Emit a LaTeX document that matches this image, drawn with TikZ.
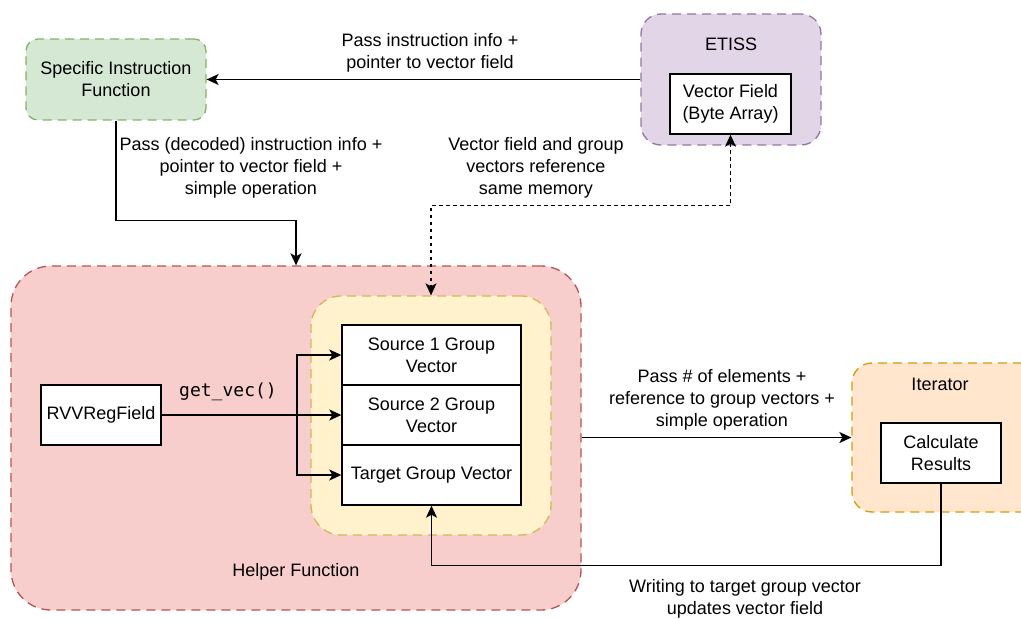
\documentclass[tikz,border=0pt]{standalone}
\usepackage{fontspec}
\setmainfont{Liberation Sans}
\newfontfamily\codefont{DejaVu Sans Mono}
\usetikzlibrary{arrows.meta}

\definecolor{greenfill}{HTML}{D5E8D4}
\definecolor{greenline}{HTML}{82B366}
\definecolor{purplefill}{HTML}{E1D5E7}
\definecolor{purpleline}{HTML}{9673A6}
\definecolor{redfill}{HTML}{F8CECC}
\definecolor{redline}{HTML}{B85450}
\definecolor{yellowfill}{HTML}{FFF2CC}
\definecolor{yellowline}{HTML}{D6B656}
\definecolor{orangefill}{HTML}{FFE6CC}
\definecolor{orangeline}{HTML}{D79B00}

\tikzset{
  container/.style={draw, line width=1.3bp, dash pattern=on 9bp off 6bp,
    align=center, inner sep=0pt},
  plainbox/.style={draw, line width=1.4bp, fill=white, align=center, inner sep=0pt},
  caption/.style={align=center, inner sep=0pt},
  arr/.style={line width=1.4bp, -{Stealth[length=12bp,width=11bp,inset=3bp]}},
  dotarr/.style={line width=1.4bp, dash pattern=on 3.5bp off 3.5bp,
    {Stealth[length=12bp,width=11bp,inset=3bp]}-{Stealth[length=12bp,width=11bp,inset=3bp]}},
}

\begin{document}
\begin{tikzpicture}[x=1bp, y=-1bp, font=\fontsize{18bp}{22bp}\selectfont]
\useasboundingbox (0,0) rectangle (1021,619);
\clip (0,0) rectangle (1021,619);

% containers
\node[container, fill=greenfill, draw=greenline, rounded corners=12bp,
      minimum width=180bp, minimum height=81bp] (sif) at (116,79.5)
      {Specific Instruction\\Function};
\node[container, fill=purplefill, draw=purpleline, rounded corners=20bp,
      minimum width=180bp, minimum height=131bp] (etiss) at (731,79.5) {};
\node[caption] (etisslabel) at (731,44) {ETISS};
\node[plainbox, minimum width=121bp, minimum height=60bp] (vf) at (730.5,104)
      {Vector Field\\(Byte Array)};

\node[container, fill=redfill, draw=redline, rounded corners=40bp,
      minimum width=570bp, minimum height=344bp] (helper) at (296,438) {};
\node[caption] (helperlabel) at (296,572) {Helper Function};

\node[container, fill=yellowfill, draw=yellowline, rounded corners=30bp,
      minimum width=240bp, minimum height=239bp] (group) at (431,415.5) {};
\node[plainbox, minimum width=179bp, minimum height=60bp] (src1) at (431.5,355)
      {Source 1 Group\\Vector};
\node[plainbox, minimum width=179bp, minimum height=60bp] (src2) at (431.5,415)
      {Source 2 Group\\Vector};
\node[plainbox, minimum width=179bp, minimum height=60bp] (tgt) at (431.5,475)
      {Target Group Vector};

\node[plainbox, minimum width=120bp, minimum height=60bp] (rvv) at (101,415)
      {RVVRegField};

\node[container, fill=orangefill, draw=orangeline, rounded corners=20bp,
      minimum width=190bp, minimum height=149bp] (iter) at (947,437.5) {};
\node[caption] (iterlabel) at (940,384) {Iterator};
\node[plainbox, minimum width=120bp, minimum height=60bp] (calc) at (941,453)
      {Calculate\\Results};

% connector captions
\node[caption] (lblinfo) at (430,53) {Pass instruction info +\\pointer to vector field};
\node[caption] (lbldecoded) at (251,168) {Pass (decoded) instruction info +\\pointer to vector field +\\simple operation};
\node[caption] (lblmemory) at (536,168) {Vector field and group\\vectors reference\\same memory};
\node[caption] (lblgetvec) at (228,392) {\fontsize{18bp}{20bp}\codefont get\_vec()};
\node[caption] (lblpass) at (722,400) {Pass \# of elements +\\reference to group vectors +\\simple operation};
\node[caption] (lblwrite) at (745,599) {Writing to target group vector\\updates vector field};

% connectors
\draw[arr] (etiss.west) -- (sif.east);
\draw[arr] (sif.south) -- ++(0,100) -| (helper.north);
\draw[dotarr] (vf.south) -- ++(0,71) -| (group.north);
\coordinate (split) at (297,415);
\draw[arr] (rvv.east) -- (src2.west);
\draw[arr] (split) |- (src1.west);
\draw[arr] (split) |- (tgt.west);
\draw[arr] (helper.east |- iter.west) -- (iter.west);
\draw[arr] (calc.south) -- ++(0,82) -| (tgt.south);
\end{tikzpicture}
\end{document}
